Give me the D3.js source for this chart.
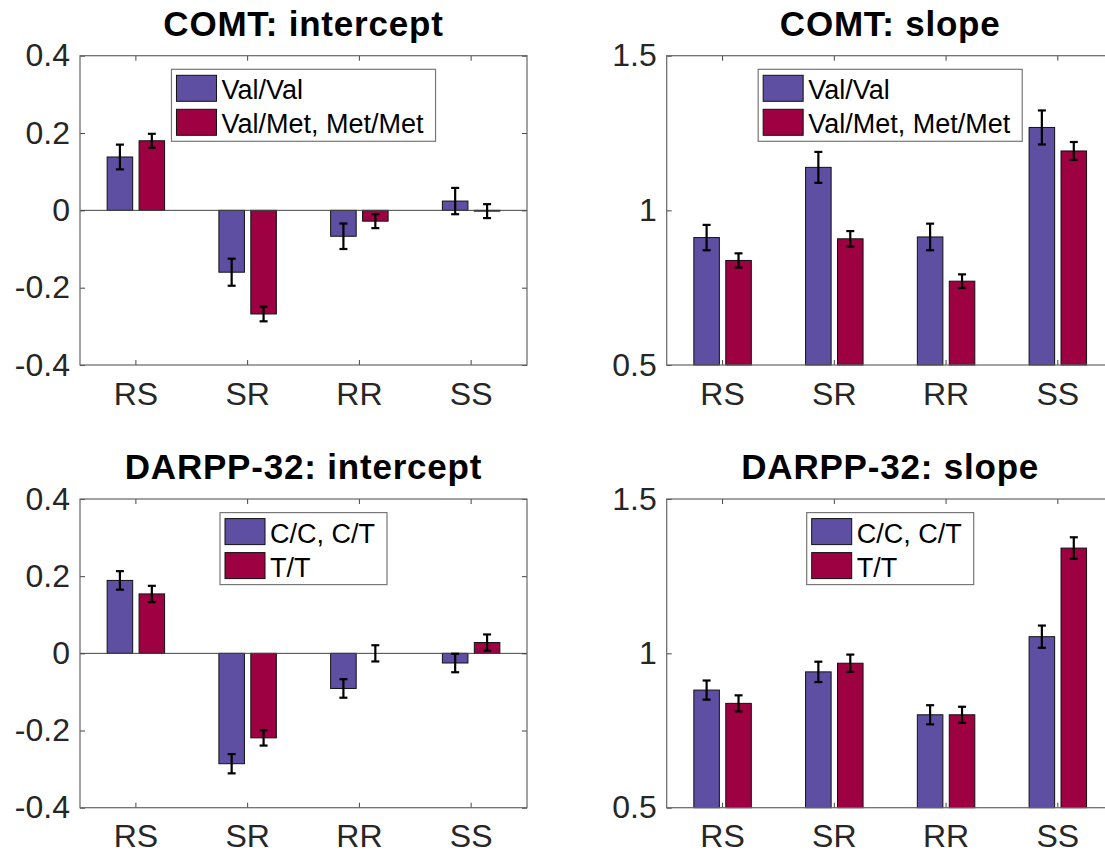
<!DOCTYPE html>
<html>
<head>
<meta charset="utf-8">
<script src="https://cdn.jsdelivr.net/npm/d3@7"></script>
<style>
  body { margin: 0; background: #fff; }
  svg { display: block; font-family: "Liberation Sans", Arial, Helvetica, sans-serif; }
</style>
</head>
<body>
<svg id="fig" width="1105" height="853"></svg>
<script>
const categories = ["RS", "SR", "RR", "SS"];

const comtLabels = ["Val/Val", "Val/Met, Met/Met"];
const darppLabels = ["C/C, C/T", "T/T"];

// COMT intercept
const comtIntValVal = [0.138, -0.160, -0.067, 0.024];
const comtIntValValErr = [0.032, 0.035, 0.033, 0.034];
const comtIntMet = [0.180, -0.268, -0.028, -0.002];
const comtIntMetErr = [0.018, 0.019, 0.018, 0.018];

// COMT slope
const comtSlopeValVal = [0.912, 1.139, 0.914, 1.268];
const comtSlopeValValErr = [0.041, 0.050, 0.043, 0.055];
const comtSlopeMet = [0.838, 0.908, 0.771, 1.192];
const comtSlopeMetErr = [0.023, 0.025, 0.022, 0.029];

// DARPP-32 intercept
const darppIntCC = [0.189, -0.286, -0.091, -0.025];
const darppIntCCErr = [0.024, 0.025, 0.024, 0.024];
const darppIntTT = [0.154, -0.219, 0.000, 0.028];
const darppIntTTErr = [0.021, 0.020, 0.021, 0.021];

// DARPP-32 slope
const darppSlopeCC = [0.881, 0.940, 0.801, 1.054];
const darppSlopeCCErr = [0.031, 0.033, 0.031, 0.036];
const darppSlopeTT = [0.838, 0.968, 0.801, 1.341];
const darppSlopeTTErr = [0.026, 0.028, 0.026, 0.035];

const interceptTicks = [-0.4, -0.2, 0, 0.2, 0.4];
const slopeTicks = [0.5, 1, 1.5];

const colors = ["#5E4FA2", "#9E0142"];

const svg = d3.select("#fig");

const drawPanel = (p) => {
  const { left, top, width, height } = p.box;
  const g = svg.append("g");

  const y = d3.scaleLinear().domain(p.domain).range([top + height, top]);
  const x0 = d3.scaleBand().domain(categories).range([left, left + width]).padding(0);
  const groupW = x0.bandwidth() * (2 / 3.5);
  const x1 = d3
    .scaleBand()
    .domain([0, 1])
    .range([0, groupW])
    .paddingInner(0.2)
    .paddingOuter(0.1);

  const base = p.domain[0] < 0 ? 0 : p.domain[0];

  const bars = [];
  p.series.forEach((s, si) => {
    s.values.forEach((v, ci) => {
      bars.push({ cat: categories[ci], si: si, v: v, e: s.errors[ci] });
    });
  });

  const barX = (d) => x0(d.cat) + (x0.bandwidth() - groupW) / 2 + x1(d.si);

  g.selectAll("rect.bar")
    .data(bars)
    .enter()
    .append("rect")
    .attr("class", "bar")
    .attr("x", (d) => barX(d))
    .attr("width", x1.bandwidth())
    .attr("y", (d) => Math.min(y(d.v), y(base)))
    .attr("height", (d) => Math.abs(y(d.v) - y(base)))
    .attr("fill", (d) => colors[d.si])
    .attr("stroke", "#111")
    .attr("stroke-width", 1);

  // zero baseline
  if (p.domain[0] < 0) {
    g.append("line")
      .attr("x1", left)
      .attr("x2", left + width)
      .attr("y1", y(0))
      .attr("y2", y(0))
      .attr("stroke", "#444")
      .attr("stroke-width", 1);
  }

  // error bars
  const eb = g
    .selectAll("g.err")
    .data(bars)
    .enter()
    .append("g")
    .attr("class", "err")
    .attr("stroke", "#000")
    .attr("stroke-width", 2.2);
  const cx = (d) => barX(d) + x1.bandwidth() / 2;
  eb.append("line")
    .attr("x1", cx)
    .attr("x2", cx)
    .attr("y1", (d) => y(d.v - d.e))
    .attr("y2", (d) => y(d.v + d.e));
  eb.append("line")
    .attr("x1", (d) => cx(d) - 4)
    .attr("x2", (d) => cx(d) + 4)
    .attr("y1", (d) => y(d.v + d.e))
    .attr("y2", (d) => y(d.v + d.e));
  eb.append("line")
    .attr("x1", (d) => cx(d) - 4)
    .attr("x2", (d) => cx(d) + 4)
    .attr("y1", (d) => y(d.v - d.e))
    .attr("y2", (d) => y(d.v - d.e));

  // axes
  const yAxis = g
    .append("g")
    .attr("transform", "translate(" + left + ",0)")
    .call(d3.axisLeft(y).tickValues(p.ticks).tickFormat((d) => String(d)).tickSize(-5).tickPadding(10));
  const yAxisR = g
    .append("g")
    .attr("transform", "translate(" + (left + width) + ",0)")
    .call(d3.axisRight(y).tickValues(p.ticks).tickFormat("").tickSize(-5));
  const xAxis = g
    .append("g")
    .attr("transform", "translate(0," + (top + height) + ")")
    .call(d3.axisBottom(x0).tickSize(-5).tickPadding(17));
  const xAxisT = g
    .append("g")
    .attr("transform", "translate(0," + top + ")")
    .call(d3.axisTop(x0).tickFormat("").tickSize(-5));

  [yAxis, yAxisR, xAxis, xAxisT].forEach((a) => {
    a.select(".domain").remove();
    a.selectAll("line").attr("stroke", "#444");
    a.selectAll("text")
      .attr("font-size", 32)
      .attr("fill", "#262626")
      .attr("font-family", '"Liberation Sans", Arial, sans-serif');
  });

  g.append("rect")
    .attr("x", left)
    .attr("y", top)
    .attr("width", width)
    .attr("height", height)
    .attr("fill", "none")
    .attr("stroke", "#666")
    .attr("stroke-width", 1.2);

  // title
  g.append("text")
    .attr("x", left + width / 2)
    .attr("y", top - 20)
    .attr("text-anchor", "middle")
    .attr("font-size", 35)
    .attr("font-weight", "bold")
    .attr("letter-spacing", 0.8)
    .attr("fill", "#000")
    .text(p.title);

  // legend (north)
  const lg = g.append("g");
  const box = lg.append("rect");
  const items = lg
    .selectAll("g.item")
    .data(p.series)
    .enter()
    .append("g")
    .attr("class", "item");
  items
    .append("rect")
    .attr("x", 5)
    .attr("y", (d, i) => 6 + i * 34)
    .attr("width", 40)
    .attr("height", 26)
    .attr("fill", (d, i) => colors[i])
    .attr("stroke", "#111")
    .attr("stroke-width", 1);
  const labels = items
    .append("text")
    .attr("x", 50)
    .attr("y", (d, i) => 30 + i * 34)
    .attr("font-size", 27)
    .attr("fill", "#000")
    .text((d) => d.label);
  let tw = 0;
  labels.each(function () {
    tw = Math.max(tw, this.getComputedTextLength());
  });
  const lw = 50 + tw + 12;
  box
    .attr("width", lw)
    .attr("height", 72)
    .attr("fill", "#fff")
    .attr("stroke", "#777")
    .attr("stroke-width", 1.2);
  lg.attr("transform", "translate(" + (left + width / 2 - lw / 2) + "," + (top + 13.6) + ")");
};

const panels = [
  {
    box: { left: 80, top: 55.7, width: 447, height: 309.3 },
    title: "COMT: intercept",
    domain: [-0.4, 0.4],
    ticks: interceptTicks,
    series: [
      { label: comtLabels[0], values: comtIntValVal, errors: comtIntValValErr },
      { label: comtLabels[1], values: comtIntMet, errors: comtIntMetErr },
    ],
  },
  {
    box: { left: 666.7, top: 55.7, width: 447, height: 309.3 },
    title: "COMT: slope",
    domain: [0.5, 1.5],
    ticks: slopeTicks,
    series: [
      { label: comtLabels[0], values: comtSlopeValVal, errors: comtSlopeValValErr },
      { label: comtLabels[1], values: comtSlopeMet, errors: comtSlopeMetErr },
    ],
  },
  {
    box: { left: 80, top: 499, width: 447, height: 308.7 },
    title: "DARPP-32: intercept",
    domain: [-0.4, 0.4],
    ticks: interceptTicks,
    series: [
      { label: darppLabels[0], values: darppIntCC, errors: darppIntCCErr },
      { label: darppLabels[1], values: darppIntTT, errors: darppIntTTErr },
    ],
  },
  {
    box: { left: 666.7, top: 499, width: 447, height: 308.7 },
    title: "DARPP-32: slope",
    domain: [0.5, 1.5],
    ticks: slopeTicks,
    series: [
      { label: darppLabels[0], values: darppSlopeCC, errors: darppSlopeCCErr },
      { label: darppLabels[1], values: darppSlopeTT, errors: darppSlopeTTErr },
    ],
  },
];

panels.forEach(drawPanel);
</script>
</body>
</html>
